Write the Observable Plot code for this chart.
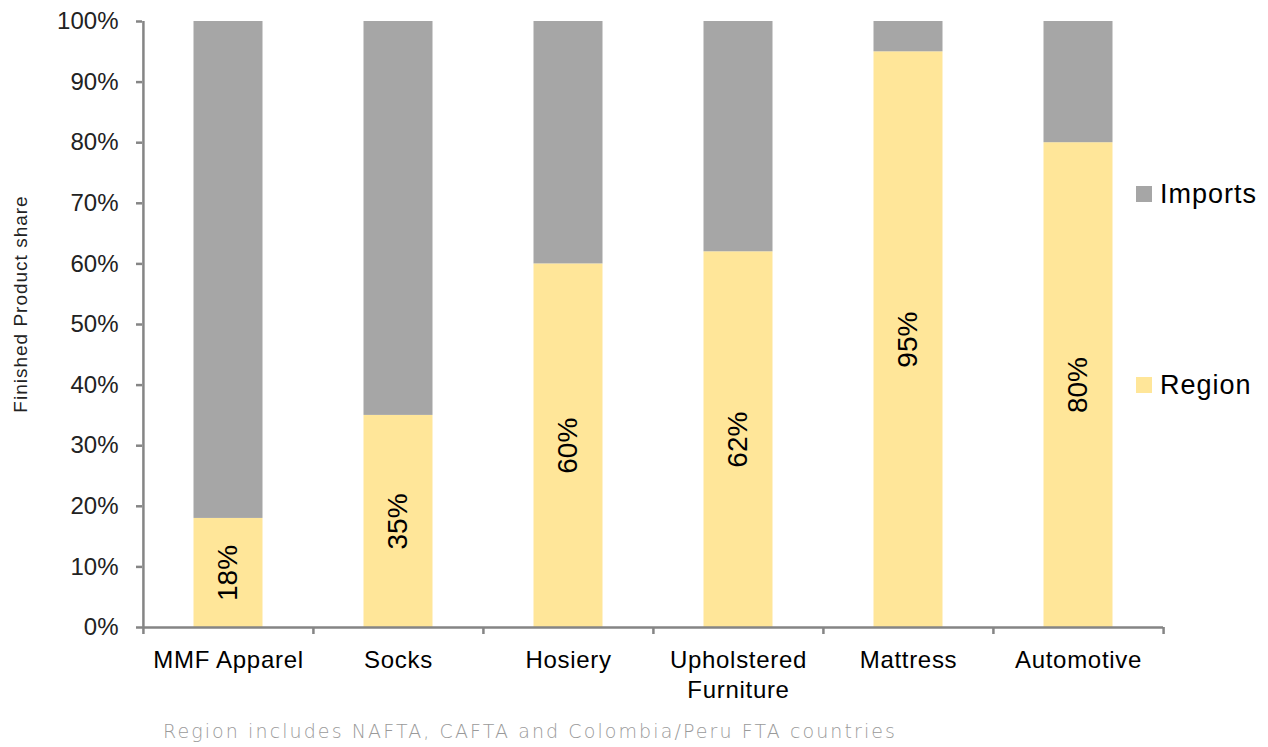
<!DOCTYPE html>
<html>
<head>
<meta charset="utf-8">
<script src="https://cdn.jsdelivr.net/npm/d3@7"></script>
<script src="https://cdn.jsdelivr.net/npm/@observablehq/plot@0.6"></script>
<style>
  body { margin: 0; background: #fff; }
  #wrap { position: relative; width: 1268px; height: 747px; overflow: hidden; font-family: "Liberation Sans", Arial, sans-serif; background: #fff; }
  #chart { position: absolute; left: 0; top: 0; }
  #chart g[aria-label="x-axis tick label"] text { letter-spacing: 0.7px; }
  .legend-item { position: absolute; display: flex; align-items: center; font-size: 27px; letter-spacing: 1px; color: #000; white-space: nowrap; }
  .legend-item .sw { width: 16px; height: 16px; margin-right: 8px; }
  #ytitle { position: absolute; left: 21px; top: 304px; transform: translate(-50%, -50%) rotate(-90deg); font-size: 19px; letter-spacing: 1px; color: #222; white-space: nowrap; }
  #note { position: absolute; left: 0; top: 705px; }
</style>
</head>
<body>
<div id="wrap">
  <div id="chart"></div>
  <div id="ytitle"></div>
  <div id="legend"></div>
  <svg id="note" width="1268" height="42"></svg>
</div>
<script>
const categories = ["MMF Apparel", "Socks", "Hosiery", "Upholstered Furniture", "Mattress", "Automotive"];
const categoryLabels = ["MMF Apparel", "Socks", "Hosiery", "Upholstered\nFurniture", "Mattress", "Automotive"];
const regionShare = [0.18, 0.35, 0.60, 0.62, 0.95, 0.80];
const importsShare = [0.82, 0.65, 0.40, 0.38, 0.05, 0.20];
const regionLabels = ["18%", "35%", "60%", "62%", "95%", "80%"];
const yTicks = [0, 0.1, 0.2, 0.3, 0.4, 0.5, 0.6, 0.7, 0.8, 0.9, 1.0];
const seriesNames = ["Region", "Imports"];
const seriesColors = ["#FFE699", "#A6A6A6"];
const legendOrder = ["Imports", "Region"];
const yAxisTitle = "Finished Product share";
const noteText = "Region includes NAFTA, CAFTA and Colombia/Peru FTA countries";

const W = 1268, H = 705;
const mL = 142, mR = 105, mT = 21, mB = 78;
const step = (W - mL - mR) / categories.length;
const axisColor = "#858585";

const regionRows = categories.map((c, i) => ({category: c, series: "Region", share: regionShare[i], label: regionLabels[i]}));
const importRows = categories.map((c, i) => ({category: c, series: "Imports", share: importsShare[i]}));
const rows = [...regionRows, ...importRows];
const labelOf = new Map(categories.map((c, i) => [c, categoryLabels[i]]));

const chart = Plot.plot({
  width: W,
  height: H,
  marginLeft: mL,
  marginRight: mR,
  marginTop: mT,
  marginBottom: mB,
  style: {fontFamily: "'Liberation Sans', Arial, sans-serif", background: "#fff", overflow: "visible"},
  x: {domain: categories, padding: 0},
  y: {domain: [0, 1]},
  color: {domain: seriesNames, range: seriesColors},
  marks: [
    Plot.barY(rows, {x: "category", y: "share", fill: "series", insetLeft: 50.5, insetRight: 50.5}),
    Plot.text(regionRows, {x: "category", y: d => d.share / 2, text: "label", rotate: -90, fontSize: 28, fill: "#000"}),
    Plot.axisY({ticks: yTicks, tickFormat: d3.format(".0%"), tickSize: 6, tickPadding: 18, fontSize: 24, fill: "#222", stroke: axisColor, strokeWidth: 2.5, label: null}),
    Plot.axisX({tickSize: 0, tickPadding: 19, fontSize: 24, fill: "#000", lineHeight: 1.25, tickFormat: d => labelOf.get(d), label: null}),
    Plot.ruleY([0], {stroke: axisColor, strokeWidth: 2.5}),
    Plot.ruleX([categories[0]], {dx: -step / 2, stroke: axisColor, strokeWidth: 2.5}),
    Plot.ruleX(categories, {y1: 0, y2: 0, insetBottom: -7, dx: -step / 2, stroke: axisColor, strokeWidth: 2.5}),
    Plot.ruleX([categories[categories.length - 1]], {y1: 0, y2: 0, insetBottom: -7, dx: step / 2, stroke: axisColor, strokeWidth: 2.5})
  ]
});
document.getElementById("chart").appendChild(chart);

document.getElementById("ytitle").textContent = yAxisTitle;

const legendTops = {Imports: 177, Region: 368};
const legend = document.getElementById("legend");
legendOrder.forEach(name => {
  const item = document.createElement("div");
  item.className = "legend-item";
  item.style.left = "1136px";
  item.style.top = legendTops[name] + "px";
  item.style.height = "34px";
  const sw = document.createElement("span");
  sw.className = "sw";
  sw.style.background = seriesColors[seriesNames.indexOf(name)];
  const tx = document.createElement("span");
  tx.textContent = name;
  item.appendChild(sw);
  item.appendChild(tx);
  legend.appendChild(item);
});

const note = d3.select("#note");
note.append("text")
  .attr("x", 163)
  .attr("y", 33)
  .attr("textLength", 732)
  .attr("lengthAdjust", "spacing")
  .attr("font-family", "'DejaVu Sans', sans-serif")
  .attr("font-weight", 300)
  .attr("font-size", 19)
  .attr("fill", "#9a9a9a")
  .text(noteText);
</script>
</body>
</html>
